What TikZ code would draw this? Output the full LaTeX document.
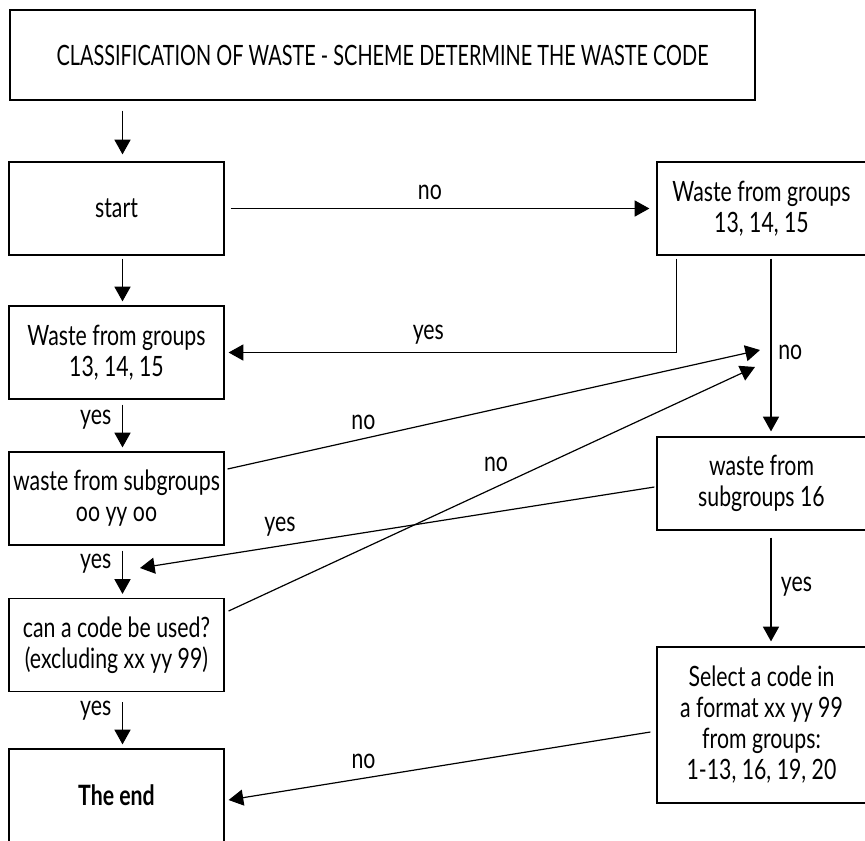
\documentclass[tikz,border=0pt]{standalone}
\usepackage{fontspec}
\setmainfont{Lato}[FakeStretch=0.76]
\newfontfamily\titlefont{Lato}[FakeStretch=0.71]
\usepackage{tikz}
\usetikzlibrary{positioning,calc,arrows.meta}

\tikzset{
	box/.style={draw, line width=0.9pt, align=center, inner sep=0pt, minimum width=161.25pt, minimum height=69.75pt, font=\fontsize{21}{23.25}\selectfont},
	rbox/.style={box, minimum width=156.75pt},
	arr/.style={line width=0.9pt, -{Triangle[width=12pt,length=11pt]}},
	lbl/.style={inner sep=0pt, font=\fontsize{21}{23}\selectfont}
}

\begin{document}
\begin{tikzpicture}[x=0.75pt,y=-0.75pt]
	\useasboundingbox (0,0) rectangle (865,840);
	\clip (0,0) rectangle (865,840);
		\node[box, minimum width=558.75pt, minimum height=67.5pt, font=\titlefont\fontsize{21}{23}\selectfont] (title) at (382.5,55) {CLASSIFICATION OF WASTE - SCHEME DETERMINE THE WASTE CODE};
		\node[box] (start) at (116.5,208.5) {start};
		\node[box] (groupsL) at (116.5,352.5) {Waste from groups\\13, 14, 15};
		\node[box] (subL) at (116.5,498.5) {waste from subgroups\\oo yy oo};
		\node[box] (codeq) at (116.5,645) {can a code be used?\\(excluding xx yy 99)};
		\node[box, font=\bfseries\fontsize{21}{23}\selectfont] (theend) at (116.5,795.5) {The end};
		\node[rbox] (groupsR) at (761.5,208.5) {Waste from groups\\13, 14, 15};
		\node[rbox] (sub16) at (761.5,483.5) {waste from\\subgroups 16};
		\node[rbox, minimum height=117pt] (select) at (761.5,725) {Select a code in\\a format xx yy 99\\from groups:\\1-13, 16, 19, 20};

	\coordinate (joinA) at (760,350);
	\coordinate (joinB) at (755,367);
	\coordinate (joinC) at (140,568);

	\draw[arr] ($(title.south -| start.north)+(6,10)$) -- ($(start.north)+(6,-7)$);
	\draw[arr] ($(start.east)+(6,0)$) -- ($(groupsR.west)+(-7,0)$) node[lbl, pos=0.476, above=6pt] (noA) {no};
	\draw[arr] ($(start.south)+(6,3)$) -- ($(groupsL.north)+(6,-4)$);
	\draw[arr] ($(groupsR.south west)+(20,3)$) |- ($(groupsL.east)+(4,0)$) node[lbl, pos=0.777, above=6pt] (yesA) {yes};
	\draw[arr] ($(groupsR.south)+(9.5,3)$) -- ($(sub16.north)+(9.5,-5)$) node[lbl, pos=0.54, right=5pt] (noB) {no};
	\draw[arr] ($(groupsL.south)+(6,5)$) -- ($(subL.north)+(6,-4)$) node[lbl, pos=0.36, left=8pt] (yesB) {yes};
	\draw[arr] ($(subL.east)+(3,-29.5)$) -- (joinA) node[lbl, pos=0.255, above=6pt] (noC) {no};
	\draw[arr] ($(subL.south)+(6,5)$) -- ($(codeq.north)+(6,-4)$) node[lbl, pos=0.3, left=8pt] (yesC) {yes};
	\draw[arr] ($(codeq.east)+(4,-34)$) -- (joinB) node[lbl, pos=0.508, above=11pt] (noD) {no};
	\draw[arr] ($(sub16.west)+(-2,3.5)$) -- (joinC) node[lbl, pos=0.728, above=7pt] (yesD) {yes};
	\draw[arr] ($(codeq.south)+(6,10)$) -- ($(theend.north)+(6,-4)$) node[lbl, pos=0.21, left=8pt] (yesE) {yes};
	\draw[arr] ($(sub16.south)+(9.5,7)$) -- ($(select.north)+(9.5,-5)$) node[lbl, pos=0.476, right=7pt] (yesF) {yes};
	\draw[arr] ($(select.west)+(-6,7)$) -- ($(theend.east)+(4,4.5)$) node[lbl, pos=0.68, above=7pt] (noE) {no};
\end{tikzpicture}
\end{document}
